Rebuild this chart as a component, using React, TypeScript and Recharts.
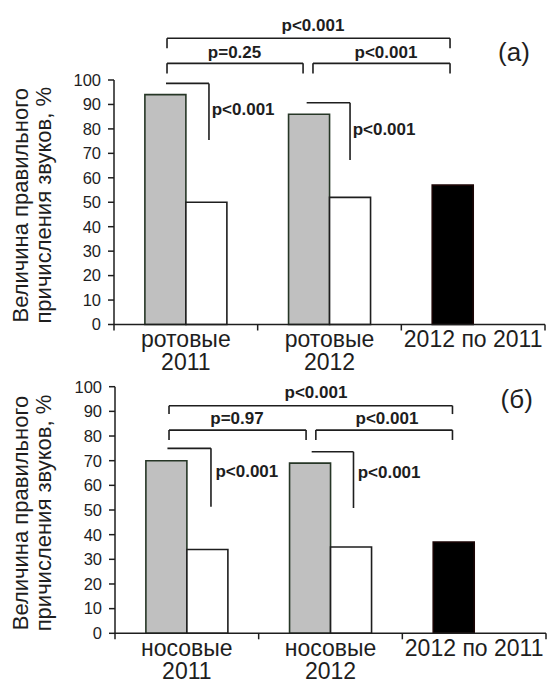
import { BarChart, Bar, Cell, XAxis, YAxis, ReferenceLine, ReferenceDot } from 'recharts';

const FONT = '"Liberation Sans", Arial, sans-serif';
const INK = '#1e1e1e';

// categories and values (percent)
const topCategories = ['ротовые\n2011', 'ротовые\n2012', '2012 по 2011'];
const topFirst = [94, 86, 57];
const topSecond = [50, 52, null];

const bottomCategories = ['носовые\n2011', 'носовые\n2012', '2012 по 2011'];
const bottomFirst = [70, 69, 37];
const bottomSecond = [34, 35, null];

// category centres on the helper numeric axis (0..3)
const centres = [0.5, 1.5, 2.5];

const firstColors = ['#c0c0c0', '#c0c0c0', '#000000'];
const firstStrokes = ['#263626', '#263626', '#1a0505'];
const yTicks = [0, 10, 20, 30, 40, 50, 60, 70, 80, 90, 100];

// significance brackets: x in category units (0..3), y in percent
const topBrackets = [
  { x1: 0.369, x2: 2.339, y: 117.1, leg: 113.0 },
  { x1: 0.369, x2: 1.316, y: 106.8, leg: 102.7 },
  { x1: 1.385, x2: 2.339, y: 106.8, leg: 102.7 },
];
const topHooks = [
  { x1: 0.362, x2: 0.661, y: 98.6, end: 75.5 },
  { x1: 1.341, x2: 1.643, y: 90.7, end: 67.3 },
];
const topLabels = [
  { x: 1.385, y: 120.0, text: 'p<0.001', anchor: 'middle' },
  { x: 0.839, y: 109.2, text: 'p=0.25', anchor: 'middle' },
  { x: 1.893, y: 109.2, text: 'p<0.001', anchor: 'middle' },
  { x: 0.68, y: 85.7, text: 'p<0.001', anchor: 'start' },
  { x: 1.661, y: 77.5, text: 'p<0.001', anchor: 'start' },
];

const bottomBrackets = [
  { x1: 0.376, x2: 2.349, y: 92.3, leg: 88.9 },
  { x1: 0.376, x2: 1.33, y: 82.4, leg: 78.4 },
  { x1: 1.398, x2: 2.349, y: 82.4, leg: 78.4 },
];
const bottomHooks = [
  { x1: 0.365, x2: 0.668, y: 75.0, end: 51.3 },
  { x1: 1.369, x2: 1.66, y: 73.6, end: 50.8 },
];
const bottomLabels = [
  { x: 1.399, y: 95.6, text: 'p<0.001', anchor: 'middle' },
  { x: 0.849, y: 84.8, text: 'p=0.97', anchor: 'middle' },
  { x: 1.893, y: 84.8, text: 'p<0.001', anchor: 'middle' },
  { x: 0.699, y: 63.4, text: 'p<0.001', anchor: 'start' },
  { x: 1.689, y: 63.0, text: 'p<0.001', anchor: 'start' },
];

const CHART_W = 547;
const Y_AXIS_W = 60;

interface PanelProps {
  categories: string[];
  first: number[];
  second: (number | null)[];
  brackets: { x1: number; x2: number; y: number; leg: number }[];
  hooks: { x1: number; x2: number; y: number; end: number }[];
  labels: { x: number; y: number; text: string; anchor: string }[];
  letter: { x: number; y: number; text: string };
  height: number;
  margin: { top: number; right: number; bottom: number; left: number };
}

function Panel({ categories, first, second, brackets, hooks, labels, letter, height, margin }: PanelProps) {
  const data = categories.map((name, i) => ({ name, u: centres[i], first: first[i], second: second[i] }));
  const band = (CHART_W - margin.left - margin.right - Y_AXIS_W) / categories.length;

  const CategoryTick = ({ x, y, payload, index }: any) => {
    const lines = String(payload.value).split('\n');
    return (
      <g>
        <line x1={x - band / 2} x2={x - band / 2} y1={y} y2={y + 6} stroke={INK} strokeWidth={1.5} />
        {index === categories.length - 1 && (
          <line x1={x + band / 2} x2={x + band / 2} y1={y} y2={y + 6} stroke={INK} strokeWidth={1.5} />
        )}
        {lines.map((line, i) => (
          <text key={i} x={x} y={y + 22.5 + i * 23} textAnchor="middle" fontSize={23} fontFamily={FONT} fill={INK}>
            {line}
          </text>
        ))}
      </g>
    );
  };

  const YLabel = ({ viewBox }: any) => {
    const cy = viewBox.y + viewBox.height / 2 + 3;
    return (
      <g fontFamily={FONT} fontSize={22} fill={INK} textAnchor="middle">
        <text x={28} y={cy} transform={`rotate(-90, 28, ${cy})`}>Величина правильного</text>
        <text x={51} y={cy} transform={`rotate(-90, 51, ${cy})`}>причисления звуков, %</text>
      </g>
    );
  };

  const seg = (key: string, ax: number, ay: number, bx: number, by: number) => (
    <ReferenceLine
      key={key}
      xAxisId="u"
      segment={[{ x: ax, y: ay }, { x: bx, y: by }]}
      stroke={INK}
      strokeWidth={1.6}
      ifOverflow="visible"
    />
  );

  return (
    <BarChart width={CHART_W} height={height} data={data} margin={margin} barGap={0} barCategoryGap="21.5%">
      <XAxis
        dataKey="name"
        tick={<CategoryTick />}
        tickLine={false}
        tickSize={0}
        tickMargin={0}
        interval={0}
        height={30}
        axisLine={{ stroke: INK, strokeWidth: 1.5 }}
      />
      <XAxis xAxisId="u" dataKey="u" type="number" domain={[0, 3]} allowDataOverflow hide />
      <YAxis
        domain={[0, 100]}
        ticks={yTicks}
        width={Y_AXIS_W}
        tickSize={6}
        tickMargin={7}
        interval={0}
        tick={{ fontSize: 16.5, fill: INK, fontFamily: FONT }}
        tickLine={{ stroke: INK, strokeWidth: 1.5 }}
        axisLine={{ stroke: INK, strokeWidth: 1.5 }}
        label={{ content: <YLabel /> }}
      />
      <Bar dataKey="first" isAnimationActive={false} strokeWidth={1.6}>
        {data.map((_, i) => (
          <Cell key={i} fill={firstColors[i]} stroke={firstStrokes[i]} />
        ))}
      </Bar>
      <Bar dataKey="second" fill="#ffffff" stroke={INK} strokeWidth={1.6} isAnimationActive={false} />
      {brackets.map((b, i) => [
        seg(`bl${i}`, b.x1, b.leg, b.x1, b.y),
        seg(`bh${i}`, b.x1, b.y, b.x2, b.y),
        seg(`br${i}`, b.x2, b.y, b.x2, b.leg),
      ])}
      {hooks.map((h, i) => [
        seg(`hh${i}`, h.x1, h.y, h.x2, h.y),
        seg(`hv${i}`, h.x2, h.y, h.x2, h.end),
      ])}
      {labels.map((l, i) => (
        <ReferenceDot
          key={`t${i}`}
          xAxisId="u"
          x={l.x}
          y={l.y}
          r={0}
          ifOverflow="visible"
          shape={(p: any) => (
            <text x={p.cx} y={p.cy} textAnchor={l.anchor} fontSize={17} fontWeight="bold" fontFamily={FONT} fill={INK}>
              {l.text}
            </text>
          )}
        />
      ))}
      <ReferenceDot
        xAxisId="u"
        x={letter.x}
        y={letter.y}
        r={0}
        ifOverflow="visible"
        shape={(p: any) => (
          <text x={p.cx} y={p.cy} textAnchor="middle" fontSize={26} fontFamily={FONT} fill={INK}>
            {letter.text}
          </text>
        )}
      />
    </BarChart>
  );
}

export default function App() {
  return (
    <div style={{ position: 'absolute', left: 0, top: 0, width: 547, height: 680, background: '#fff' }}>
      <div style={{ position: 'absolute', left: 0, top: 0 }}>
        <Panel
          categories={topCategories}
          first={topFirst}
          second={topSecond}
          brackets={topBrackets}
          hooks={topHooks}
          labels={topLabels}
          letter={{ x: 2.784, y: 107.8, text: '(а)' }}
          height={380}
          margin={{ top: 80, right: 2, bottom: 25.5, left: 54 }}
        />
      </div>
      <div style={{ position: 'absolute', left: 0, top: 340 }}>
        <Panel
          categories={bottomCategories}
          first={bottomFirst}
          second={bottomSecond}
          brackets={bottomBrackets}
          hooks={bottomHooks}
          labels={bottomLabels}
          letter={{ x: 2.796, y: 91.4, text: '(б)' }}
          height={340}
          margin={{ top: 46.7, right: 1, bottom: 16.7, left: 55 }}
        />
      </div>
    </div>
  );
}
